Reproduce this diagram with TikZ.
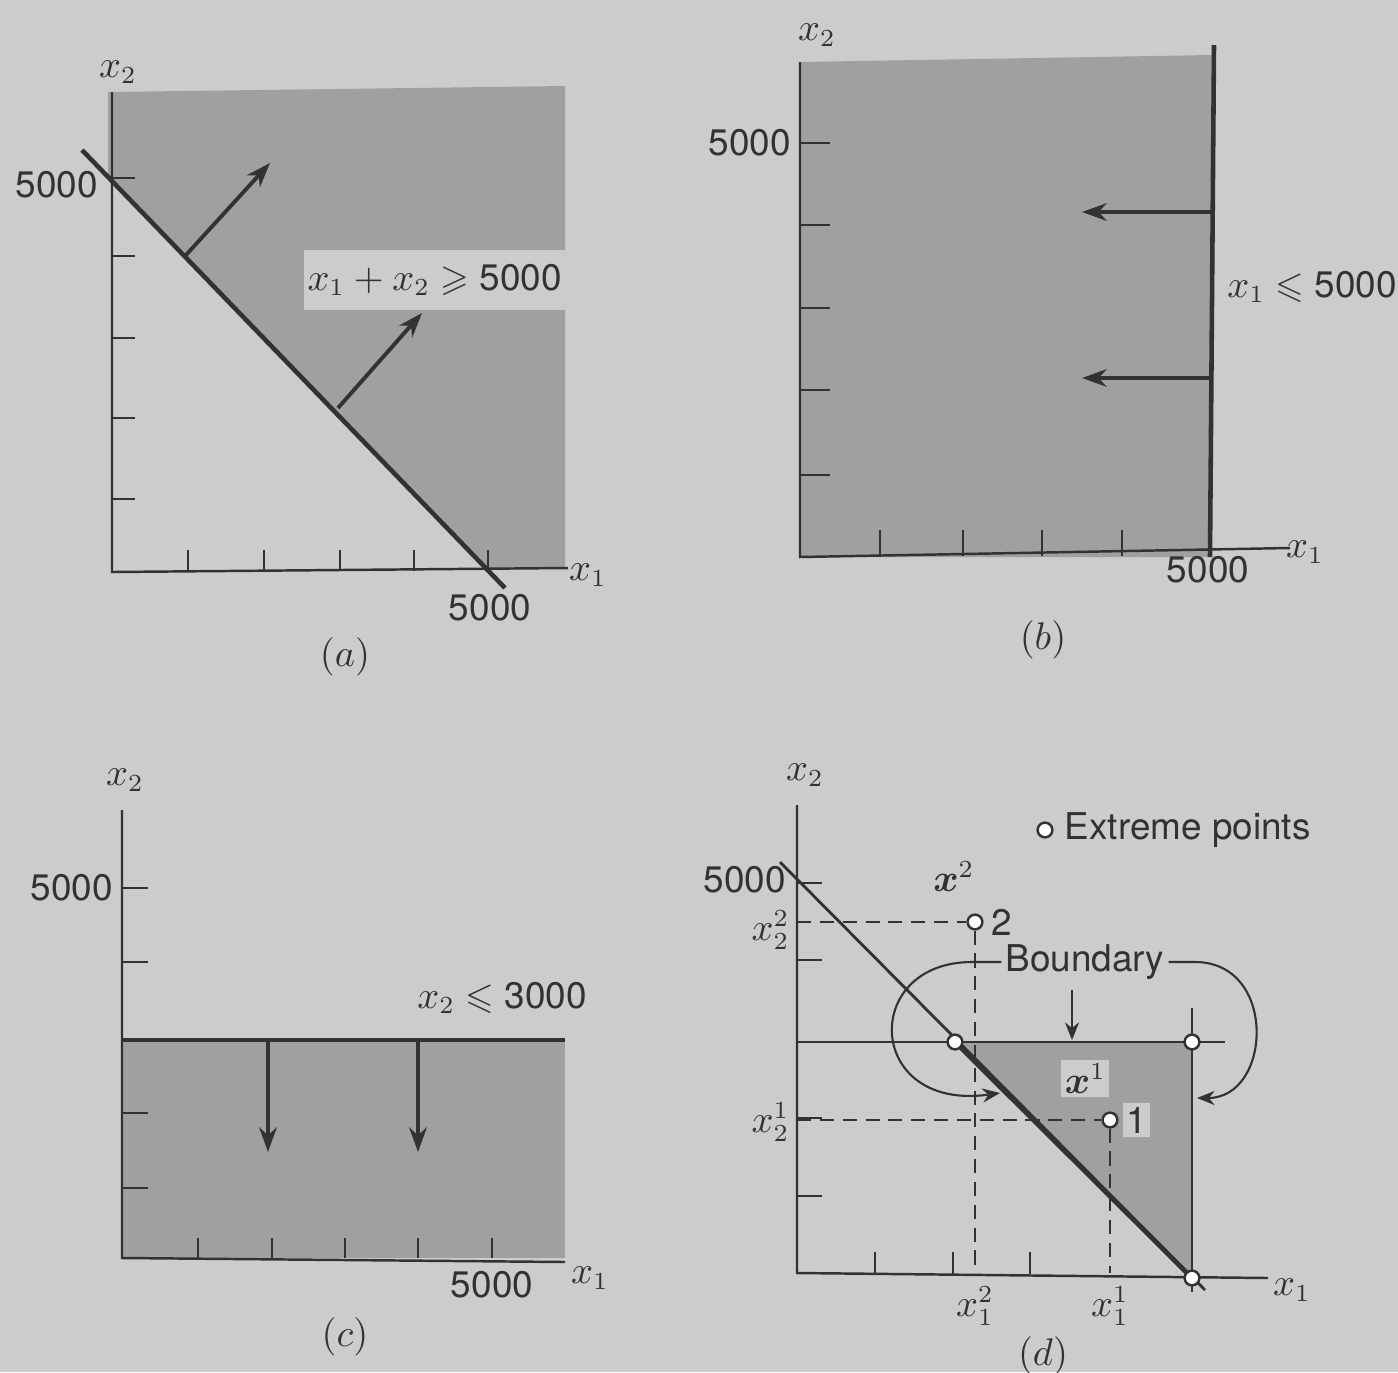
\documentclass[tikz,border=0pt]{standalone}
\usepackage{amsmath,amssymb}
\usepackage{fontspec}
\setmainfont{TeX Gyre Heros}
\usetikzlibrary{positioning,arrows.meta}

\definecolor{pagebg}{RGB}{203,204,205}
\definecolor{regiongray}{RGB}{160,160,160}
\definecolor{ink}{RGB}{50,50,50}

\tikzset{
  axis/.style={ink, line width=0.7pt},
  tickmark/.style={ink, line width=0.6pt},
  cline/.style={ink, line width=1.3pt},
  thinline/.style={ink, line width=0.8pt},
  region/.style={fill=regiongray},
  dirarrow/.style={ink, line width=1.1pt, -{Stealth[length=7pt,width=5pt]}},
  loop/.style={ink, line width=0.6pt, -{Stealth[length=5pt,width=4pt]}},
  lbl/.style={text=ink, inner sep=1pt},
  pt/.style={circle, draw=ink, fill=white, line width=0.7pt, inner sep=0pt, minimum size=4.2pt},
  guide/.style={ink, line width=0.7pt, dash pattern=on 4pt off 2.5pt},
}

\begin{document}
\begin{tikzpicture}[x=0.1mm, y=-0.1mm, font=\fontsize{10.5pt}{12pt}\selectfont]
    \useasboundingbox (0,0) rectangle (1398,1372);
    \fill[pagebg] (0,0) rectangle (1398,1372);

    % (a) x1 + x2 >= 5000
    \path[region] (108,92) -- (565,86) -- (565,568) -- (488,570) -- (108,174) -- cycle;
    \node[lbl, fill=pagebg, minimum width=25mm, minimum height=6mm, anchor=east] (consA) at (566,280) {$x_1 + x_2 \geqslant$ 5000};
    \draw[axis] (112,92) -- (112,572) -- (568,568);
    \foreach \y in {178,256,338,418,499} \draw[tickmark] (112,\y) -- (135,\y);
    \foreach \x in {188,264,340,414,488} \draw[tickmark] (\x,571) -- (\x,550);
    \draw[cline] (82,150) -- (505,588);
    \draw[dirarrow] (186,255) -- (270,163);
    \draw[dirarrow] (338,408) -- (422,313);
    \node[lbl] (xtwoA) at (118,72) {$x_2$};
    \node[lbl, anchor=east] (fiveyA) at (102,185) {5000};
    \node[lbl] (fivexA) at (490,608) {5000};
    \node[lbl] (xoneA) at (588,575) {$x_1$};
    \node[lbl] (capA) at (345,657) {$(a)$};

    % (b) x1 <= 5000
    \path[region] (800,62) -- (1212,55) -- (1210,557) -- (800,557) -- cycle;
    \draw[axis] (800,62) -- (800,557) -- (1290,548);
    \foreach \y in {143,225,308,390,475} \draw[tickmark] (800,\y) -- (830,\y);
    \foreach \x in {880,963,1042,1122} \draw[tickmark] (\x,556) -- (\x,530);
    \draw[cline] (1214,45) -- (1210,557);
    \draw[dirarrow] (1211,212) -- (1082,212);
    \draw[dirarrow] (1211,378) -- (1082,378);
    \node[lbl] (xtwoB) at (817,35) {$x_2$};
    \node[lbl, anchor=east] (fiveyB) at (795,143) {5000};
    \node[lbl] (fivexB) at (1208,570) {5000};
    \node[lbl] (xoneB) at (1305,552) {$x_1$};
    \node[lbl] (consB) at (1312,287) {$x_1 \leqslant$ 5000};
    \node[lbl] (capB) at (1043,640) {$(b)$};

    % (c) x2 <= 3000
    \path[region] (122,1040) rectangle (565,1258);
    \draw[axis] (122,810) -- (122,1258) -- (565,1262);
    \foreach \y in {888,962,1113,1188} \draw[tickmark] (122,\y) -- (148,\y);
    \foreach \x in {198,272,345,418,492} \draw[tickmark] (\x,1258) -- (\x,1238);
    \draw[cline] (122,1040) -- (565,1040);
    \draw[dirarrow] (268,1040) -- (268,1152);
    \draw[dirarrow] (418,1040) -- (418,1152);
    \node[lbl] (xtwoC) at (125,780) {$x_2$};
    \node[lbl, anchor=east] (fiveyC) at (117,888) {5000};
    \node[lbl] (consC) at (502,998) {$x_2 \leqslant$ 3000};
    \node[lbl] (fivexC) at (492,1285) {5000};
    \node[lbl] (xoneC) at (590,1278) {$x_1$};
    \node[lbl] (capC) at (345,1337) {$(c)$};

    % (d) feasible region and extreme points
    \path[region] (955,1042) -- (1192,1042) -- (1192,1278) -- cycle;
    \draw[axis] (797,805) -- (797,1273) -- (1268,1278);
    \foreach \y in {883,960,1118,1196} \draw[tickmark] (797,\y) -- (822,\y);
    \foreach \x in {875,953,1030} \draw[tickmark] (\x,1274) -- (\x,1252);
    \draw[thinline] (780,862) -- (1205,1290);
    \draw[thinline] (797,1042) -- (1225,1042);
    \draw[thinline] (1192,1008) -- (1192,1292);
    \draw[cline] (955,1042) -- (1192,1278);

    % Boundary label and loops
    \node[lbl, fill=pagebg] (bnd) at (1085,962) {Boundary};
    \draw[loop] (bnd.west) -- (972,962) .. controls (860,962) and (865,1112) .. (1000,1093);
    \draw[loop] (bnd.east) -- (1195,962) .. controls (1278,962) and (1272,1098) .. (1197,1098);
    \draw[loop] (1072,990) -- (1072,1040);

    % Points x^1 and x^2
    \node[pt] (xsec) at (975,922) {};
    \node[pt] (xfir) at (1110,1120) {};
    \draw[guide] (797,922) -- (xsec.west);
    \draw[guide] (xsec.south) -- (975,1273);
    \draw[guide] (797,1120) -- (xfir.west);
    \draw[guide] (xfir.south) -- (1110,1273);
    \node[lbl, right=1pt of xsec] (twoD) {2};
    \node[lbl, above=5pt of xsec, xshift=-6pt] (xsecl) {$\boldsymbol{x}^2$};
    \node[lbl, fill=pagebg, right=1pt of xfir] (oneD) {1};
    \node[lbl, fill=pagebg, above=4pt of xfir, xshift=-7pt] (xfirl) {$\boldsymbol{x}^1$};

    % Extreme points
    \node[pt] (epA) at (955,1042) {};
    \node[pt] (epB) at (1192,1042) {};
    \node[pt] (epC) at (1192,1278) {};
    \node[pt] (legdot) at (1045,830) {};
    \node[lbl, right=2pt of legdot] (legtext) {Extreme points};

    \node[lbl] (xtwoD) at (805,775) {$x_2$};
    \node[lbl, anchor=east] (fiveyD) at (790,880) {5000};
    \node[lbl, anchor=east, inner sep=0pt] (xtwotwo) at (790,930) {$x_2^2$};
    \node[lbl, anchor=east, inner sep=0pt] (xtwoone) at (790,1122) {$x_2^1$};
    \node[lbl, inner sep=0pt] (xonetwo) at (975,1306) {$x_1^2$};
    \node[lbl, inner sep=0pt] (xoneone) at (1110,1306) {$x_1^1$};
    \node[lbl] (xoneD) at (1292,1290) {$x_1$};
    \node[lbl] (capD) at (1043,1356) {$(d)$};
\end{tikzpicture}
\end{document}
